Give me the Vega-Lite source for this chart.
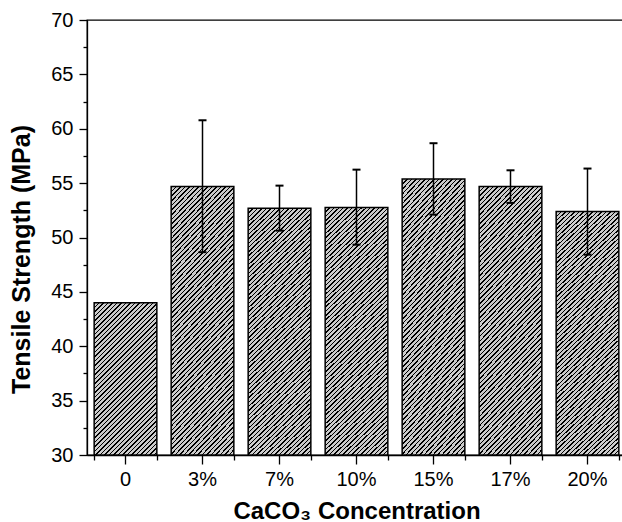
{
  "$schema": "https://vega.github.io/schema/vega-lite/v6.json",
  "width": 539,
  "height": 435,
  "autosize": "none",
  "padding": {"left": 87, "top": 20, "right": 0, "bottom": 67},
  "background": "white",
  "config": {"view": {"stroke": "black", "strokeWidth": 1.3}, "font": "Liberation Sans"},
  "data": {"values": [
    {"c": "0", "ts": 44.0, "lo": null, "hi": null},
    {"c": "3%", "ts": 54.7, "lo": 48.65, "hi": 60.78},
    {"c": "7%", "ts": 52.68, "lo": 50.63, "hi": 54.77},
    {"c": "10%", "ts": 52.77, "lo": 49.34, "hi": 56.24},
    {"c": "15%", "ts": 55.39, "lo": 52.1, "hi": 58.67},
    {"c": "17%", "ts": 54.7, "lo": 53.18, "hi": 56.18},
    {"c": "20%", "ts": 52.38, "lo": 48.42, "hi": 56.34}
  ]},
  "resolve": {"axis": {"x": "independent", "y": "independent"}},
  "layer": [
    {
      "transform": [{"filter": "datum.c === '0'"}],
      "mark": {"type": "bar", "stroke": "black", "strokeWidth": 1.5, "fill": {"gradient": "linear", "x1": 0, "y1": 0, "x2": 0.887866, "y2": 2.156633, "stops": [
        {"offset":0,"color":"#000"},{"offset":0.0039,"color":"#000"},{"offset":0.0039,"color":"#ccc"},{"offset":0.0117,"color":"#ccc"},
        {"offset":0.0117,"color":"#000"},{"offset":0.0156,"color":"#000"},{"offset":0.0156,"color":"#ccc"},{"offset":0.0234,"color":"#ccc"},
        {"offset":0.0234,"color":"#000"},{"offset":0.0273,"color":"#000"},{"offset":0.0273,"color":"#ccc"},{"offset":0.0352,"color":"#ccc"},
        {"offset":0.0352,"color":"#000"},{"offset":0.0391,"color":"#000"},{"offset":0.0391,"color":"#ccc"},{"offset":0.0469,"color":"#ccc"},
        {"offset":0.0469,"color":"#000"},{"offset":0.0508,"color":"#000"},{"offset":0.0508,"color":"#ccc"},{"offset":0.0586,"color":"#ccc"},
        {"offset":0.0586,"color":"#000"},{"offset":0.0625,"color":"#000"},{"offset":0.0625,"color":"#ccc"},{"offset":0.0703,"color":"#ccc"},
        {"offset":0.0703,"color":"#000"},{"offset":0.0742,"color":"#000"},{"offset":0.0742,"color":"#ccc"},{"offset":0.082,"color":"#ccc"},
        {"offset":0.082,"color":"#000"},{"offset":0.0859,"color":"#000"},{"offset":0.0859,"color":"#ccc"},{"offset":0.0938,"color":"#ccc"},
        {"offset":0.0938,"color":"#000"},{"offset":0.0977,"color":"#000"},{"offset":0.0977,"color":"#ccc"},{"offset":0.1055,"color":"#ccc"},
        {"offset":0.1055,"color":"#000"},{"offset":0.1094,"color":"#000"},{"offset":0.1094,"color":"#ccc"},{"offset":0.1172,"color":"#ccc"},
        {"offset":0.1172,"color":"#000"},{"offset":0.1211,"color":"#000"},{"offset":0.1211,"color":"#ccc"},{"offset":0.1289,"color":"#ccc"},
        {"offset":0.1289,"color":"#000"},{"offset":0.1328,"color":"#000"},{"offset":0.1328,"color":"#ccc"},{"offset":0.1406,"color":"#ccc"},
        {"offset":0.1406,"color":"#000"},{"offset":0.1445,"color":"#000"},{"offset":0.1445,"color":"#ccc"},{"offset":0.1523,"color":"#ccc"},
        {"offset":0.1523,"color":"#000"},{"offset":0.1563,"color":"#000"},{"offset":0.1563,"color":"#ccc"},{"offset":0.1641,"color":"#ccc"},
        {"offset":0.1641,"color":"#000"},{"offset":0.168,"color":"#000"},{"offset":0.168,"color":"#ccc"},{"offset":0.1758,"color":"#ccc"},
        {"offset":0.1758,"color":"#000"},{"offset":0.1797,"color":"#000"},{"offset":0.1797,"color":"#ccc"},{"offset":0.1875,"color":"#ccc"},
        {"offset":0.1875,"color":"#000"},{"offset":0.1914,"color":"#000"},{"offset":0.1914,"color":"#ccc"},{"offset":0.1992,"color":"#ccc"},
        {"offset":0.1992,"color":"#000"},{"offset":0.2031,"color":"#000"},{"offset":0.2031,"color":"#ccc"},{"offset":0.2109,"color":"#ccc"},
        {"offset":0.2109,"color":"#000"},{"offset":0.2148,"color":"#000"},{"offset":0.2148,"color":"#ccc"},{"offset":0.2227,"color":"#ccc"},
        {"offset":0.2227,"color":"#000"},{"offset":0.2266,"color":"#000"},{"offset":0.2266,"color":"#ccc"},{"offset":0.2344,"color":"#ccc"},
        {"offset":0.2344,"color":"#000"},{"offset":0.2383,"color":"#000"},{"offset":0.2383,"color":"#ccc"},{"offset":0.2461,"color":"#ccc"},
        {"offset":0.2461,"color":"#000"},{"offset":0.25,"color":"#000"},{"offset":0.25,"color":"#ccc"},{"offset":0.2578,"color":"#ccc"},
        {"offset":0.2578,"color":"#000"},{"offset":0.2617,"color":"#000"},{"offset":0.2617,"color":"#ccc"},{"offset":0.2695,"color":"#ccc"},
        {"offset":0.2695,"color":"#000"},{"offset":0.2734,"color":"#000"},{"offset":0.2734,"color":"#ccc"},{"offset":0.2813,"color":"#ccc"},
        {"offset":0.2813,"color":"#000"},{"offset":0.2852,"color":"#000"},{"offset":0.2852,"color":"#ccc"},{"offset":0.293,"color":"#ccc"},
        {"offset":0.293,"color":"#000"},{"offset":0.2969,"color":"#000"},{"offset":0.2969,"color":"#ccc"},{"offset":0.3047,"color":"#ccc"},
        {"offset":0.3047,"color":"#000"},{"offset":0.3086,"color":"#000"},{"offset":0.3086,"color":"#ccc"},{"offset":0.3164,"color":"#ccc"},
        {"offset":0.3164,"color":"#000"},{"offset":0.3203,"color":"#000"},{"offset":0.3203,"color":"#ccc"},{"offset":0.3281,"color":"#ccc"},
        {"offset":0.3281,"color":"#000"},{"offset":0.332,"color":"#000"},{"offset":0.332,"color":"#ccc"},{"offset":0.3398,"color":"#ccc"},
        {"offset":0.3398,"color":"#000"},{"offset":0.3438,"color":"#000"},{"offset":0.3438,"color":"#ccc"},{"offset":0.3516,"color":"#ccc"},
        {"offset":0.3516,"color":"#000"},{"offset":0.3555,"color":"#000"},{"offset":0.3555,"color":"#ccc"},{"offset":0.3633,"color":"#ccc"},
        {"offset":0.3633,"color":"#000"},{"offset":0.3672,"color":"#000"},{"offset":0.3672,"color":"#ccc"},{"offset":0.375,"color":"#ccc"},
        {"offset":0.375,"color":"#000"},{"offset":0.3789,"color":"#000"},{"offset":0.3789,"color":"#ccc"},{"offset":0.3867,"color":"#ccc"},
        {"offset":0.3867,"color":"#000"},{"offset":0.3906,"color":"#000"},{"offset":0.3906,"color":"#ccc"},{"offset":0.3984,"color":"#ccc"},
        {"offset":0.3984,"color":"#000"},{"offset":0.4023,"color":"#000"},{"offset":0.4023,"color":"#ccc"},{"offset":0.4102,"color":"#ccc"},
        {"offset":0.4102,"color":"#000"},{"offset":0.4141,"color":"#000"},{"offset":0.4141,"color":"#ccc"},{"offset":0.4219,"color":"#ccc"},
        {"offset":0.4219,"color":"#000"},{"offset":0.4258,"color":"#000"},{"offset":0.4258,"color":"#ccc"},{"offset":0.4336,"color":"#ccc"},
        {"offset":0.4336,"color":"#000"},{"offset":0.4375,"color":"#000"},{"offset":0.4375,"color":"#ccc"},{"offset":0.4453,"color":"#ccc"},
        {"offset":0.4453,"color":"#000"},{"offset":0.4492,"color":"#000"},{"offset":0.4492,"color":"#ccc"},{"offset":0.457,"color":"#ccc"},
        {"offset":0.457,"color":"#000"},{"offset":0.4609,"color":"#000"},{"offset":0.4609,"color":"#ccc"},{"offset":0.4688,"color":"#ccc"},
        {"offset":0.4688,"color":"#000"},{"offset":0.4727,"color":"#000"},{"offset":0.4727,"color":"#ccc"},{"offset":0.4805,"color":"#ccc"},
        {"offset":0.4805,"color":"#000"},{"offset":0.4844,"color":"#000"},{"offset":0.4844,"color":"#ccc"},{"offset":0.4922,"color":"#ccc"},
        {"offset":0.4922,"color":"#000"},{"offset":0.4961,"color":"#000"},{"offset":0.4961,"color":"#ccc"},{"offset":0.5039,"color":"#ccc"},
        {"offset":0.5039,"color":"#000"},{"offset":0.5078,"color":"#000"},{"offset":0.5078,"color":"#ccc"},{"offset":0.5156,"color":"#ccc"},
        {"offset":0.5156,"color":"#000"},{"offset":0.5195,"color":"#000"},{"offset":0.5195,"color":"#ccc"},{"offset":0.5273,"color":"#ccc"},
        {"offset":0.5273,"color":"#000"},{"offset":0.5313,"color":"#000"},{"offset":0.5313,"color":"#ccc"},{"offset":0.5391,"color":"#ccc"},
        {"offset":0.5391,"color":"#000"},{"offset":0.543,"color":"#000"},{"offset":0.543,"color":"#ccc"},{"offset":0.5508,"color":"#ccc"},
        {"offset":0.5508,"color":"#000"},{"offset":0.5547,"color":"#000"},{"offset":0.5547,"color":"#ccc"},{"offset":0.5625,"color":"#ccc"},
        {"offset":0.5625,"color":"#000"},{"offset":0.5664,"color":"#000"},{"offset":0.5664,"color":"#ccc"},{"offset":1,"color":"#ccc"}
      ]}},
      "encoding": {
        "x": {"field": "c", "type": "nominal",
          "scale": {"domain": ["0", "3%", "7%", "10%", "15%", "17%", "20%"], "paddingInner": 0.186, "paddingOuter": 0.093},
          "axis": {"title": "CaCO₃ Concentration", "titleFont": "Liberation Sans", "titleFontSize": 24, "titleFontWeight": "bold", "titleColor": "black", "titlePadding": 10,
            "labelFont": "Liberation Sans", "labelFontSize": 20, "labelColor": "black", "labelAngle": 0, "labelPadding": 5,
            "tickSize": 9, "tickColor": "black", "tickWidth": 1.3, "domainColor": "black", "domainWidth": 1.3, "grid": false}},
        "y": {"field": "ts", "type": "quantitative",
          "scale": {"domain": [30, 70], "nice": false, "zero": false},
          "axis": {"title": "Tensile Strength (MPa)", "titleFont": "Liberation Sans", "titleFontSize": 25, "titleFontWeight": "bold", "titleColor": "black", "titlePadding": 16, "titleY": 239,
            "values": [30, 35, 40, 45, 50, 55, 60, 65, 70],
            "labelFont": "Liberation Sans", "labelFontSize": 20, "labelColor": "black", "labelPadding": 6,
            "tickSize": 8, "tickColor": "black", "tickWidth": 1.3, "domainColor": "black", "domainWidth": 1.3, "grid": false}},
        "y2": {"datum": 30}
      }
    },
    {
      "transform": [{"filter": "datum.c !== '0'"}],
      "mark": {"type": "bar", "stroke": "black", "strokeWidth": 1.5, "fill": {"gradient": "linear", "x1": 0, "y1": 0, "x2": 0.341441, "y2": 1.40542, "stops": [
        {"offset":0,"color":"#000"},{"offset":0.0039,"color":"#000"},{"offset":0.0039,"color":"#ccc"},{"offset":0.0117,"color":"#ccc"},
        {"offset":0.0117,"color":"#000"},{"offset":0.0156,"color":"#000"},{"offset":0.0156,"color":"#ccc"},{"offset":0.0234,"color":"#ccc"},
        {"offset":0.0234,"color":"#000"},{"offset":0.0273,"color":"#000"},{"offset":0.0273,"color":"#ccc"},{"offset":0.0352,"color":"#ccc"},
        {"offset":0.0352,"color":"#000"},{"offset":0.0391,"color":"#000"},{"offset":0.0391,"color":"#ccc"},{"offset":0.0469,"color":"#ccc"},
        {"offset":0.0469,"color":"#000"},{"offset":0.0508,"color":"#000"},{"offset":0.0508,"color":"#ccc"},{"offset":0.0586,"color":"#ccc"},
        {"offset":0.0586,"color":"#000"},{"offset":0.0625,"color":"#000"},{"offset":0.0625,"color":"#ccc"},{"offset":0.0703,"color":"#ccc"},
        {"offset":0.0703,"color":"#000"},{"offset":0.0742,"color":"#000"},{"offset":0.0742,"color":"#ccc"},{"offset":0.082,"color":"#ccc"},
        {"offset":0.082,"color":"#000"},{"offset":0.0859,"color":"#000"},{"offset":0.0859,"color":"#ccc"},{"offset":0.0938,"color":"#ccc"},
        {"offset":0.0938,"color":"#000"},{"offset":0.0977,"color":"#000"},{"offset":0.0977,"color":"#ccc"},{"offset":0.1055,"color":"#ccc"},
        {"offset":0.1055,"color":"#000"},{"offset":0.1094,"color":"#000"},{"offset":0.1094,"color":"#ccc"},{"offset":0.1172,"color":"#ccc"},
        {"offset":0.1172,"color":"#000"},{"offset":0.1211,"color":"#000"},{"offset":0.1211,"color":"#ccc"},{"offset":0.1289,"color":"#ccc"},
        {"offset":0.1289,"color":"#000"},{"offset":0.1328,"color":"#000"},{"offset":0.1328,"color":"#ccc"},{"offset":0.1406,"color":"#ccc"},
        {"offset":0.1406,"color":"#000"},{"offset":0.1445,"color":"#000"},{"offset":0.1445,"color":"#ccc"},{"offset":0.1523,"color":"#ccc"},
        {"offset":0.1523,"color":"#000"},{"offset":0.1563,"color":"#000"},{"offset":0.1563,"color":"#ccc"},{"offset":0.1641,"color":"#ccc"},
        {"offset":0.1641,"color":"#000"},{"offset":0.168,"color":"#000"},{"offset":0.168,"color":"#ccc"},{"offset":0.1758,"color":"#ccc"},
        {"offset":0.1758,"color":"#000"},{"offset":0.1797,"color":"#000"},{"offset":0.1797,"color":"#ccc"},{"offset":0.1875,"color":"#ccc"},
        {"offset":0.1875,"color":"#000"},{"offset":0.1914,"color":"#000"},{"offset":0.1914,"color":"#ccc"},{"offset":0.1992,"color":"#ccc"},
        {"offset":0.1992,"color":"#000"},{"offset":0.2031,"color":"#000"},{"offset":0.2031,"color":"#ccc"},{"offset":0.2109,"color":"#ccc"},
        {"offset":0.2109,"color":"#000"},{"offset":0.2148,"color":"#000"},{"offset":0.2148,"color":"#ccc"},{"offset":0.2227,"color":"#ccc"},
        {"offset":0.2227,"color":"#000"},{"offset":0.2266,"color":"#000"},{"offset":0.2266,"color":"#ccc"},{"offset":0.2344,"color":"#ccc"},
        {"offset":0.2344,"color":"#000"},{"offset":0.2383,"color":"#000"},{"offset":0.2383,"color":"#ccc"},{"offset":0.2461,"color":"#ccc"},
        {"offset":0.2461,"color":"#000"},{"offset":0.25,"color":"#000"},{"offset":0.25,"color":"#ccc"},{"offset":0.2578,"color":"#ccc"},
        {"offset":0.2578,"color":"#000"},{"offset":0.2617,"color":"#000"},{"offset":0.2617,"color":"#ccc"},{"offset":0.2695,"color":"#ccc"},
        {"offset":0.2695,"color":"#000"},{"offset":0.2734,"color":"#000"},{"offset":0.2734,"color":"#ccc"},{"offset":0.2813,"color":"#ccc"},
        {"offset":0.2813,"color":"#000"},{"offset":0.2852,"color":"#000"},{"offset":0.2852,"color":"#ccc"},{"offset":0.293,"color":"#ccc"},
        {"offset":0.293,"color":"#000"},{"offset":0.2969,"color":"#000"},{"offset":0.2969,"color":"#ccc"},{"offset":0.3047,"color":"#ccc"},
        {"offset":0.3047,"color":"#000"},{"offset":0.3086,"color":"#000"},{"offset":0.3086,"color":"#ccc"},{"offset":0.3164,"color":"#ccc"},
        {"offset":0.3164,"color":"#000"},{"offset":0.3203,"color":"#000"},{"offset":0.3203,"color":"#ccc"},{"offset":0.3281,"color":"#ccc"},
        {"offset":0.3281,"color":"#000"},{"offset":0.332,"color":"#000"},{"offset":0.332,"color":"#ccc"},{"offset":0.3398,"color":"#ccc"},
        {"offset":0.3398,"color":"#000"},{"offset":0.3438,"color":"#000"},{"offset":0.3438,"color":"#ccc"},{"offset":0.3516,"color":"#ccc"},
        {"offset":0.3516,"color":"#000"},{"offset":0.3555,"color":"#000"},{"offset":0.3555,"color":"#ccc"},{"offset":0.3633,"color":"#ccc"},
        {"offset":0.3633,"color":"#000"},{"offset":0.3672,"color":"#000"},{"offset":0.3672,"color":"#ccc"},{"offset":0.375,"color":"#ccc"},
        {"offset":0.375,"color":"#000"},{"offset":0.3789,"color":"#000"},{"offset":0.3789,"color":"#ccc"},{"offset":0.3867,"color":"#ccc"},
        {"offset":0.3867,"color":"#000"},{"offset":0.3906,"color":"#000"},{"offset":0.3906,"color":"#ccc"},{"offset":0.3984,"color":"#ccc"},
        {"offset":0.3984,"color":"#000"},{"offset":0.4023,"color":"#000"},{"offset":0.4023,"color":"#ccc"},{"offset":0.4102,"color":"#ccc"},
        {"offset":0.4102,"color":"#000"},{"offset":0.4141,"color":"#000"},{"offset":0.4141,"color":"#ccc"},{"offset":0.4219,"color":"#ccc"},
        {"offset":0.4219,"color":"#000"},{"offset":0.4258,"color":"#000"},{"offset":0.4258,"color":"#ccc"},{"offset":0.4336,"color":"#ccc"},
        {"offset":0.4336,"color":"#000"},{"offset":0.4375,"color":"#000"},{"offset":0.4375,"color":"#ccc"},{"offset":0.4453,"color":"#ccc"},
        {"offset":0.4453,"color":"#000"},{"offset":0.4492,"color":"#000"},{"offset":0.4492,"color":"#ccc"},{"offset":0.457,"color":"#ccc"},
        {"offset":0.457,"color":"#000"},{"offset":0.4609,"color":"#000"},{"offset":0.4609,"color":"#ccc"},{"offset":0.4688,"color":"#ccc"},
        {"offset":0.4688,"color":"#000"},{"offset":0.4727,"color":"#000"},{"offset":0.4727,"color":"#ccc"},{"offset":0.4805,"color":"#ccc"},
        {"offset":0.4805,"color":"#000"},{"offset":0.4844,"color":"#000"},{"offset":0.4844,"color":"#ccc"},{"offset":0.4922,"color":"#ccc"},
        {"offset":0.4922,"color":"#000"},{"offset":0.4961,"color":"#000"},{"offset":0.4961,"color":"#ccc"},{"offset":0.5039,"color":"#ccc"},
        {"offset":0.5039,"color":"#000"},{"offset":0.5078,"color":"#000"},{"offset":0.5078,"color":"#ccc"},{"offset":0.5156,"color":"#ccc"},
        {"offset":0.5156,"color":"#000"},{"offset":0.5195,"color":"#000"},{"offset":0.5195,"color":"#ccc"},{"offset":0.5273,"color":"#ccc"},
        {"offset":0.5273,"color":"#000"},{"offset":0.5313,"color":"#000"},{"offset":0.5313,"color":"#ccc"},{"offset":0.5391,"color":"#ccc"},
        {"offset":0.5391,"color":"#000"},{"offset":0.543,"color":"#000"},{"offset":0.543,"color":"#ccc"},{"offset":0.5508,"color":"#ccc"},
        {"offset":0.5508,"color":"#000"},{"offset":0.5547,"color":"#000"},{"offset":0.5547,"color":"#ccc"},{"offset":0.5625,"color":"#ccc"},
        {"offset":0.5625,"color":"#000"},{"offset":0.5664,"color":"#000"},{"offset":0.5664,"color":"#ccc"},{"offset":0.5742,"color":"#ccc"},
        {"offset":0.5742,"color":"#000"},{"offset":0.5781,"color":"#000"},{"offset":0.5781,"color":"#ccc"},{"offset":0.5859,"color":"#ccc"},
        {"offset":0.5859,"color":"#000"},{"offset":0.5898,"color":"#000"},{"offset":0.5898,"color":"#ccc"},{"offset":0.5977,"color":"#ccc"},
        {"offset":0.5977,"color":"#000"},{"offset":0.6016,"color":"#000"},{"offset":0.6016,"color":"#ccc"},{"offset":0.6094,"color":"#ccc"},
        {"offset":0.6094,"color":"#000"},{"offset":0.6133,"color":"#000"},{"offset":0.6133,"color":"#ccc"},{"offset":0.6211,"color":"#ccc"},
        {"offset":0.6211,"color":"#000"},{"offset":0.625,"color":"#000"},{"offset":0.625,"color":"#ccc"},{"offset":0.6328,"color":"#ccc"},
        {"offset":0.6328,"color":"#000"},{"offset":0.6367,"color":"#000"},{"offset":0.6367,"color":"#ccc"},{"offset":0.6445,"color":"#ccc"},
        {"offset":0.6445,"color":"#000"},{"offset":0.6484,"color":"#000"},{"offset":0.6484,"color":"#ccc"},{"offset":0.6563,"color":"#ccc"},
        {"offset":0.6563,"color":"#000"},{"offset":0.6602,"color":"#000"},{"offset":0.6602,"color":"#ccc"},{"offset":0.668,"color":"#ccc"},
        {"offset":0.668,"color":"#000"},{"offset":0.6719,"color":"#000"},{"offset":0.6719,"color":"#ccc"},{"offset":0.6797,"color":"#ccc"},
        {"offset":0.6797,"color":"#000"},{"offset":0.6836,"color":"#000"},{"offset":0.6836,"color":"#ccc"},{"offset":0.6914,"color":"#ccc"},
        {"offset":0.6914,"color":"#000"},{"offset":0.6953,"color":"#000"},{"offset":0.6953,"color":"#ccc"},{"offset":0.7031,"color":"#ccc"},
        {"offset":0.7031,"color":"#000"},{"offset":0.707,"color":"#000"},{"offset":0.707,"color":"#ccc"},{"offset":0.7148,"color":"#ccc"},
        {"offset":0.7148,"color":"#000"},{"offset":0.7188,"color":"#000"},{"offset":0.7188,"color":"#ccc"},{"offset":0.7266,"color":"#ccc"},
        {"offset":0.7266,"color":"#000"},{"offset":0.7305,"color":"#000"},{"offset":0.7305,"color":"#ccc"},{"offset":0.7383,"color":"#ccc"},
        {"offset":0.7383,"color":"#000"},{"offset":0.7422,"color":"#000"},{"offset":0.7422,"color":"#ccc"},{"offset":0.75,"color":"#ccc"},
        {"offset":0.75,"color":"#000"},{"offset":0.7539,"color":"#000"},{"offset":0.7539,"color":"#ccc"},{"offset":0.7617,"color":"#ccc"},
        {"offset":0.7617,"color":"#000"},{"offset":0.7656,"color":"#000"},{"offset":0.7656,"color":"#ccc"},{"offset":0.7734,"color":"#ccc"},
        {"offset":0.7734,"color":"#000"},{"offset":0.7773,"color":"#000"},{"offset":0.7773,"color":"#ccc"},{"offset":0.7852,"color":"#ccc"},
        {"offset":0.7852,"color":"#000"},{"offset":0.7891,"color":"#000"},{"offset":0.7891,"color":"#ccc"},{"offset":0.7969,"color":"#ccc"},
        {"offset":0.7969,"color":"#000"},{"offset":0.8008,"color":"#000"},{"offset":0.8008,"color":"#ccc"},{"offset":0.8086,"color":"#ccc"},
        {"offset":0.8086,"color":"#000"},{"offset":0.8125,"color":"#000"},{"offset":0.8125,"color":"#ccc"},{"offset":0.8203,"color":"#ccc"},
        {"offset":0.8203,"color":"#000"},{"offset":0.8242,"color":"#000"},{"offset":0.8242,"color":"#ccc"},{"offset":0.832,"color":"#ccc"},
        {"offset":0.832,"color":"#000"},{"offset":0.8359,"color":"#000"},{"offset":0.8359,"color":"#ccc"},{"offset":1,"color":"#ccc"}
      ]}},
      "encoding": {
        "x": {"field": "c", "type": "nominal",
          "scale": {"domain": ["0", "3%", "7%", "10%", "15%", "17%", "20%"], "paddingInner": 0.186, "paddingOuter": 0.093},
          "axis": null},
        "y": {"field": "ts", "type": "quantitative", "scale": {"domain": [30, 70], "nice": false, "zero": false}, "axis": null},
        "y2": {"datum": 30}
      }
    },
    {
      "transform": [{"filter": "datum.lo != null"}],
      "mark": {"type": "rule", "color": "black", "strokeWidth": 1.5},
      "encoding": {
        "x": {"field": "c", "type": "nominal",
          "scale": {"domain": ["0", "3%", "7%", "10%", "15%", "17%", "20%"], "paddingInner": 0.186, "paddingOuter": 0.093},
          "axis": {"orient": "bottom", "tickBand": "extent", "tickSize": 5, "tickColor": "black", "tickWidth": 1.3, "labels": false, "domain": false, "title": null, "grid": false}},
        "y": {"field": "lo", "type": "quantitative", "scale": {"domain": [30, 70], "nice": false, "zero": false},
          "axis": {"orient": "left", "values": [32.5, 37.5, 42.5, 47.5, 52.5, 57.5, 62.5, 67.5], "tickSize": 4, "tickColor": "black", "tickWidth": 1.3, "labels": false, "domain": false, "title": null, "grid": false}},
        "y2": {"field": "hi"}
      }
    },
    {
      "transform": [{"filter": "datum.lo != null"}],
      "mark": {"type": "tick", "color": "black", "opacity": 1, "size": 8, "thickness": 2},
      "encoding": {
        "x": {"field": "c", "type": "nominal",
          "scale": {"domain": ["0", "3%", "7%", "10%", "15%", "17%", "20%"], "paddingInner": 0.186, "paddingOuter": 0.093},
          "axis": null},
        "y": {"field": "hi", "type": "quantitative", "scale": {"domain": [30, 70], "nice": false, "zero": false}, "axis": null}
      }
    },
    {
      "transform": [{"filter": "datum.lo != null"}],
      "mark": {"type": "tick", "color": "black", "opacity": 1, "size": 8, "thickness": 2},
      "encoding": {
        "x": {"field": "c", "type": "nominal",
          "scale": {"domain": ["0", "3%", "7%", "10%", "15%", "17%", "20%"], "paddingInner": 0.186, "paddingOuter": 0.093},
          "axis": null},
        "y": {"field": "lo", "type": "quantitative", "scale": {"domain": [30, 70], "nice": false, "zero": false}, "axis": null}
      }
    }
  ]
}
